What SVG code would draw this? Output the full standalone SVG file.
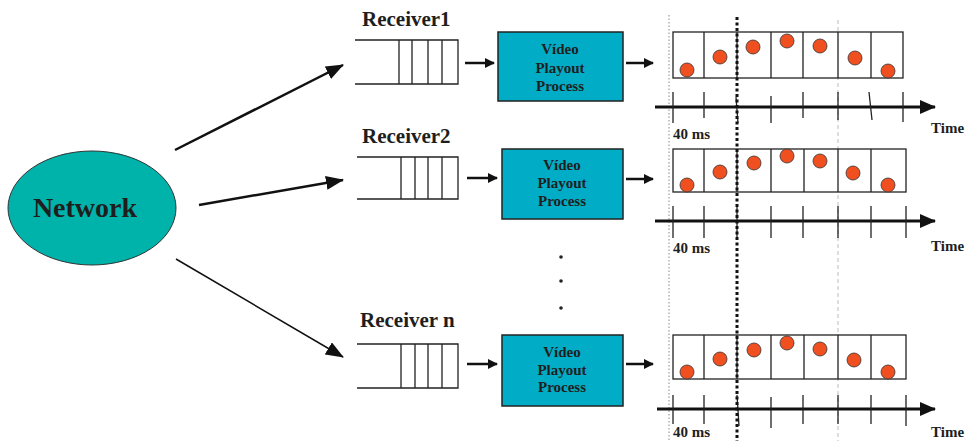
<svg xmlns="http://www.w3.org/2000/svg" width="966" height="441" viewBox="0 0 966 441">
<defs>
<style>
.t{font-family:"Liberation Serif","Times New Roman",serif;font-weight:bold;fill:#1e1e1e}
.q{fill:none;stroke:#222;stroke-width:1.3}
.box{fill:#00ACC6;stroke:#222;stroke-width:1.5}
.cell{fill:#fff;stroke:#222;stroke-width:1.3}
.axis{stroke:#111;stroke-width:3}
.tick{stroke:#222;stroke-width:1.3}
.dot{fill:#F0501F;stroke:#333;stroke-width:0.8}
.ln{stroke:#111;stroke-width:2.5}
</style>
<marker id="ah" markerWidth="10" markerHeight="10" refX="9" refY="5" orient="auto" markerUnits="userSpaceOnUse">
<path d="M0,0 L10,5 L0,10 z" fill="#111"/>
</marker>
<marker id="big" markerWidth="16" markerHeight="14" refX="15" refY="7" orient="auto" markerUnits="userSpaceOnUse">
<path d="M0,0 L16,7 L0,14 z" fill="#111"/>
</marker>
<marker id="net" markerWidth="18" markerHeight="14" refX="17" refY="7" orient="auto" markerUnits="userSpaceOnUse">
<path d="M0,0 L18,7 L0,14 z" fill="#111"/>
</marker>
</defs>

<!-- vertical reference lines -->
<g id="guides">
<line x1="669" y1="15" x2="669" y2="441" stroke="#888" stroke-width="1" stroke-dasharray="1.5 2"/>
<line x1="838" y1="20" x2="838" y2="441" stroke="#aaa" stroke-width="0.8" stroke-dasharray="4 3"/>
</g>

<g id="network">
<ellipse cx="92" cy="208" rx="84" ry="57" fill="#00B3AA" stroke="#333" stroke-width="1"/>
<text class="t" x="85" y="217" font-size="28" text-anchor="middle">Network</text>
</g>

<g id="connectors">
<line x1="175" y1="150" x2="343" y2="65" stroke="#111" stroke-width="2.5" marker-end="url(#net)"/>
<line x1="199" y1="205" x2="343" y2="180" stroke="#111" stroke-width="2.5" marker-end="url(#net)"/>
<line x1="176" y1="259" x2="343" y2="357" stroke="#111" stroke-width="1.5" marker-end="url(#net)"/>
<line x1="465" y1="63" x2="494" y2="63" class="ln" marker-end="url(#ah)"/>
<line x1="467" y1="178" x2="497" y2="178" class="ln" marker-end="url(#ah)"/>
<line x1="467" y1="364" x2="497" y2="364" class="ln" marker-end="url(#ah)"/>
<line x1="626" y1="63" x2="653" y2="63" class="ln" marker-end="url(#ah)"/>
<line x1="626" y1="179" x2="653" y2="179" class="ln" marker-end="url(#ah)"/>
<line x1="626" y1="364" x2="653" y2="364" class="ln" marker-end="url(#ah)"/>
</g>

<!-- Receiver 1 -->
<g id="receiver1">
<text class="t" x="362" y="26" font-size="21">Receiver1</text>
<path class="q" d="M355,40 H458 V84 H355 M399,40 V84 M412,40 V84 M428,40 V84 M442,40 V84"/>
</g>
<g id="playout1">
<rect class="box" x="498" y="32" width="125" height="69"/>
<text class="t" x="560" y="54" font-size="15" text-anchor="middle">Vídeo</text>
<text class="t" x="560" y="73" font-size="15" text-anchor="middle">Playout</text>
<text class="t" x="560" y="91" font-size="15" text-anchor="middle">Process</text>
</g>
<g id="timeline1">
<rect class="cell" x="673" y="32" width="230" height="46"/>
<path class="tick" d="M704,32 V78 M737,32 V78 M771,32 V78 M803,32 V78 M838,32 V78 M871,32 V78"/>
<circle class="dot" cx="687" cy="70" r="7"/>
<circle class="dot" cx="720" cy="57" r="7"/>
<circle class="dot" cx="753" cy="47" r="7"/>
<circle class="dot" cx="787" cy="41" r="7"/>
<circle class="dot" cx="820" cy="46" r="7"/>
<circle class="dot" cx="855" cy="58" r="7"/>
<circle class="dot" cx="888" cy="71" r="7"/>
<line class="axis" x1="655" y1="107" x2="935" y2="107" marker-end="url(#big)"/>
<path class="tick" d="M673,92 V123 M704,92 V118 M736,97 L738,123 M771,96 V123 M803,92 V118 M838,92 V120 M869,92 L872,120 M903,92 V122"/>
<text class="t" x="673" y="139" font-size="15">40 ms</text>
<text class="t" x="931" y="133" font-size="15">Time</text>
</g>

<!-- Receiver 2 -->
<g id="receiver2">
<text class="t" x="362" y="143" font-size="21">Receiver2</text>
<path class="q" d="M357,157 H458 V199 H357 M401,157 V199 M415,157 V199 M428,157 V199 M442,157 V199"/>
</g>
<g id="playout2">
<rect class="box" x="502" y="149" width="121" height="70"/>
<text class="t" x="562" y="170" font-size="15" text-anchor="middle">Vídeo</text>
<text class="t" x="562" y="188" font-size="15" text-anchor="middle">Playout</text>
<text class="t" x="562" y="206" font-size="15" text-anchor="middle">Process</text>
</g>
<g id="timeline2">
<rect class="cell" x="673" y="149" width="233" height="43"/>
<path class="tick" d="M704,149 V192 M737,149 V192 M771,149 V192 M804,149 V192 M838,149 V192 M871,149 V192"/>
<circle class="dot" cx="687" cy="185" r="7"/>
<circle class="dot" cx="720" cy="172" r="7"/>
<circle class="dot" cx="754" cy="163" r="7"/>
<circle class="dot" cx="787" cy="156" r="7"/>
<circle class="dot" cx="820" cy="161" r="7"/>
<circle class="dot" cx="853" cy="173" r="7"/>
<circle class="dot" cx="888" cy="185" r="7"/>
<line class="axis" x1="655" y1="221" x2="935" y2="221" marker-end="url(#big)"/>
<path class="tick" d="M673,206 V238 M704,206 V238 M737,206 V238 M771,206 V238 M803,206 V238 M838,206 V238 M871,206 V238 M906,206 V238"/>
<text class="t" x="673" y="253" font-size="15">40 ms</text>
<text class="t" x="931" y="251" font-size="15">Time</text>
</g>

<g id="ellipsis">
<circle cx="561" cy="257" r="1.8" fill="#222"/>
<circle cx="561" cy="281" r="1.8" fill="#222"/>
<circle cx="561" cy="308" r="1.8" fill="#222"/>
</g>

<!-- Receiver n -->
<g id="receivern">
<text class="t" x="360" y="327" font-size="21">Receiver n</text>
<path class="q" d="M357,344 H458 V388 H357 M401,344 V388 M415,344 V388 M428,344 V388 M442,344 V388"/>
</g>
<g id="playoutn">
<rect class="box" x="502" y="335" width="121" height="71"/>
<text class="t" x="562" y="357" font-size="15" text-anchor="middle">Vídeo</text>
<text class="t" x="562" y="375" font-size="15" text-anchor="middle">Playout</text>
<text class="t" x="562" y="392" font-size="15" text-anchor="middle">Process</text>
</g>
<g id="timelinen">
<rect class="cell" x="673" y="335" width="233" height="44"/>
<path class="tick" d="M704,335 V379 M737,335 V379 M771,335 V379 M804,335 V379 M838,335 V379 M871,335 V379"/>
<circle class="dot" cx="687" cy="372" r="7"/>
<circle class="dot" cx="720" cy="359" r="7"/>
<circle class="dot" cx="754" cy="350" r="7"/>
<circle class="dot" cx="787" cy="343" r="7"/>
<circle class="dot" cx="820" cy="349" r="7"/>
<circle class="dot" cx="854" cy="360" r="7"/>
<circle class="dot" cx="888" cy="372" r="7"/>
<line class="axis" x1="657" y1="409" x2="935" y2="409" marker-end="url(#big)"/>
<path class="tick" d="M673,395 V424 M704,395 V424 M737,395 L739,426 M771,397 V428 M803,395 V424 M838,395 V424 M871,395 V424 M906,395 V426"/>
<text class="t" x="673" y="437" font-size="15">40 ms</text>
<text class="t" x="931" y="437" font-size="15">Time</text>
</g>

<g id="playout-boundary">
<line x1="737" y1="17" x2="737" y2="441" stroke="#111" stroke-width="3" stroke-dasharray="3 2.5"/>
</g>
</svg>
